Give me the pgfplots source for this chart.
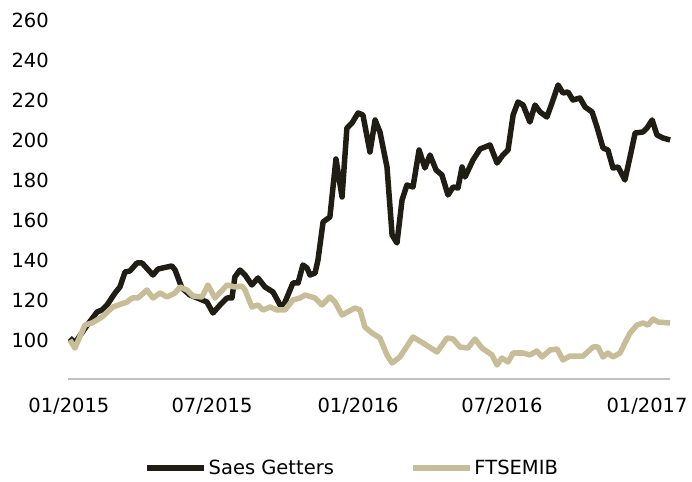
\documentclass[border=0pt]{standalone}
\usepackage{pgfplots}
\pgfplotsset{compat=1.18}
\usepackage{fontspec}
\setmainfont{DejaVu Sans}
\definecolor{saes}{RGB}{31,29,20}
\definecolor{ftse}{RGB}{199,190,153}
\definecolor{axisgray}{RGB}{192,192,192}
\begin{document}
\begin{tikzpicture}[font=\fontsize{19.5pt}{23pt}\selectfont]
\path[use as bounding box] (-68.4pt,-102pt) rectangle (623.6pt,379pt);
\begin{axis}[
  at={(0pt,0pt)}, anchor=south west,
  scale only axis, width=601.7pt, height=359pt,
  xmin=0.1, xmax=24.86, ymin=80.5, ymax=260,
  clip=false,
  axis lines*=left,
  x axis line style={axisgray, line width=2.5pt},
  y axis line style={draw=none},
  xtick={0.12,6.01,12.02,17.94,23.91},
  xticklabels={01/2015,07/2015,01/2016,07/2016,01/2017},
  ytick={100,120,140,160,180,200,220,240,260},
  major tick length=0pt,
  tick style={draw=none},
  /pgf/number format/assume math mode=true,
  yticklabel style={anchor=east, inner sep=0pt, xshift=-19.4pt},
  xticklabel style={anchor=north, inner sep=0pt, yshift=-19pt},
  legend columns=2,
  legend style={at={(axis description cs:0.1265,-0.248)}, anchor=west,
    draw=none, fill=none, inner sep=0pt,
    /tikz/every odd column/.append style={column sep=0pt},
    /tikz/every even column/.append style={column sep=75pt},
    nodes={inner sep=1.5pt, anchor=west}},
  legend image code/.code={\draw[#1, line width=5.5pt] (0pt,0pt) -- (57pt,0pt);},
]
\addplot[saes, line width=5.5pt, line join=round] coordinates {
(0.16,101)(0.37,98.5)(0.82,106.5)(1.28,114)(1.48,115)(1.69,117.5)(2.02,123.5)(2.22,126.5)(2.43,134)(2.63,134.5)(2.92,138.5)(3.13,138.5)(3.58,132.5)(3.79,135.5)(4.16,136.5)(4.36,137)(4.49,135)(4.77,126)(5.10,122.5)(5.51,120.5)(5.80,119)(6.05,113.5)(6.34,117.5)(6.63,121)(6.83,121)(6.95,131.5)(7.16,135)(7.37,132.5)(7.65,127.5)(7.90,131)(8.19,126.5)(8.52,124)(8.81,117.5)(8.93,116.5)(9.22,125)(9.34,128.5)(9.55,128.5)(9.75,137.5)(9.92,136)(10.04,132.5)(10.25,133.5)(10.37,140)(10.58,159)(10.86,161.5)(11.11,190.5)(11.36,171.5)(11.56,206)(11.77,208.5)(12.02,213.5)(12.22,212.5)(12.51,194)(12.72,210)(12.92,204)(13.21,186.5)(13.42,152.5)(13.62,148.5)(13.83,170)(14.03,177.5)(14.28,176.5)(14.53,195)(14.77,186)(14.98,192.5)(15.23,185)(15.47,182.5)(15.72,172.5)(15.93,176.5)(16.13,176)(16.30,186.5)(16.42,181.5)(16.75,190)(17.04,195.5)(17.45,197.5)(17.74,188.5)(17.98,192.5)(18.19,195)(18.40,212.5)(18.60,219)(18.81,217.5)(19.09,209)(19.30,217.5)(19.51,214)(19.79,211.5)(20.00,218.5)(20.25,227.5)(20.45,223.5)(20.66,224)(20.86,220)(21.15,221)(21.36,216.5)(21.65,214)(21.85,206.5)(22.10,196)(22.30,195)(22.51,186)(22.72,186.5)(23.00,180)(23.21,191.5)(23.42,203.5)(23.74,204)(23.91,206)(24.12,210)(24.32,202.5)(24.57,201)(24.86,200)
};
\addlegendentry{Saes Getters}
\addplot[ftse, line width=5.5pt, line join=round] coordinates {
(0.16,100)(0.37,96)(0.78,107.5)(1.07,108.5)(1.48,111.5)(1.93,116.5)(2.51,119)(2.72,121)(2.96,121)(3.33,125)(3.58,121)(3.87,123.5)(4.16,121.5)(4.49,123.5)(4.69,126.5)(4.98,125)(5.23,122)(5.60,121.5)(5.84,127.5)(6.13,121)(6.63,127.5)(6.95,126.5)(7.24,127)(7.37,125)(7.65,116.5)(7.90,117.5)(8.11,115)(8.40,116.5)(8.68,115)(9.01,115)(9.34,120)(9.63,121)(9.84,122.5)(10.25,121)(10.53,117.5)(10.86,121.5)(11.07,119)(11.36,112.5)(11.89,116)(12.10,115)(12.30,106.5)(12.59,103.5)(12.92,101)(13.21,92.5)(13.42,88.5)(13.74,91.5)(14.28,101.5)(14.69,98.5)(15.27,94)(15.68,101)(15.93,100.5)(16.21,96.5)(16.54,96)(16.83,100.5)(17.12,96)(17.53,92.5)(17.74,87.5)(17.94,91)(18.19,89)(18.40,93.5)(18.81,93.5)(19.09,92.5)(19.38,94.5)(19.59,91.5)(19.92,95)(20.21,95.5)(20.45,90)(20.74,92)(21.28,92)(21.69,96.5)(21.89,96.5)(22.10,91.5)(22.30,93.5)(22.51,91.5)(22.80,93.5)(23.00,98.5)(23.21,103.5)(23.50,107.5)(23.74,108.5)(23.95,107.5)(24.16,110.5)(24.36,109)(24.86,108.5)
};
\addlegendentry{FTSEMIB}
\end{axis}
\end{tikzpicture}
\end{document}
